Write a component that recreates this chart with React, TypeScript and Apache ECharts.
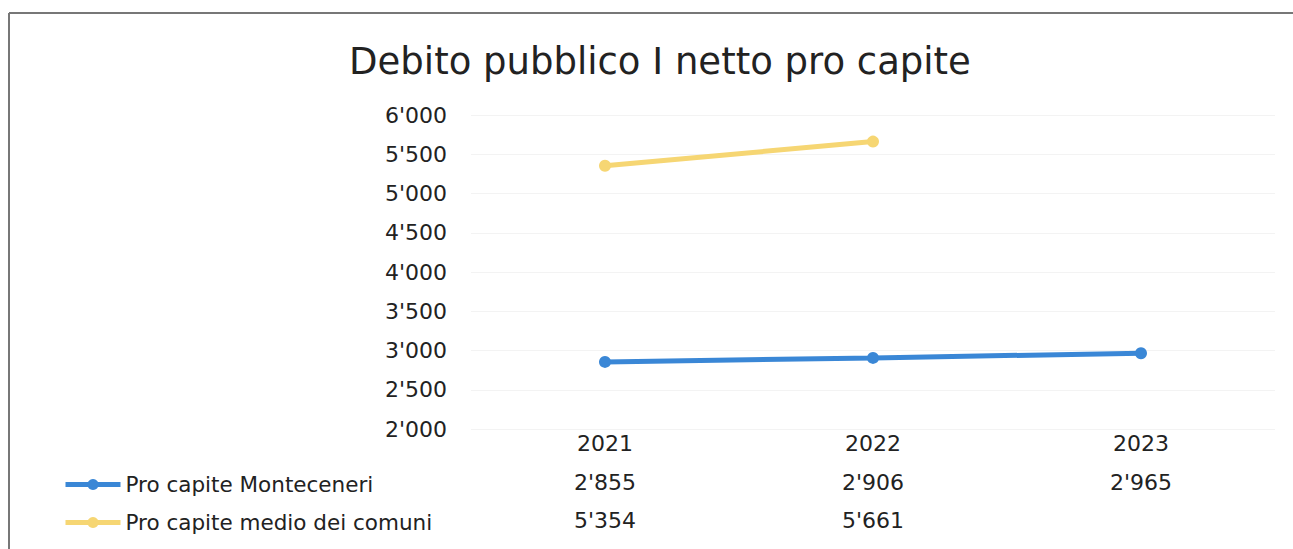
import React, { useEffect, useRef } from "react";
import * as echarts from "echarts";

const years = ["2021", "2022", "2023"];
const seriesNames = ["Pro capite Monteceneri", "Pro capite medio dei comuni"];
const monteceneri = [2855, 2906, 2965];
const medioComuni: (number | null)[] = [5354, 5661, null];
const yMin = 2000;
const yMax = 6000;
const yStep = 500;

const FONT = "DejaVu Sans";
const BLUE = "#3a87d6";
const YELLOW = "#f6d673";

function fmt(v: number | null): string {
  if (v == null) return "";
  const th = Math.floor(v / 1000);
  const rest = String(Math.round(v % 1000)).padStart(3, "0");
  return th > 0 ? `${th}'${rest}` : String(v);
}

export default function App() {
  const ref = useRef<HTMLDivElement>(null);
  useEffect(() => {
    document.body.style.margin = "0";
    const chart = echarts.init(ref.current!, null, { renderer: "svg" });
    const textBase = { fontFamily: FONT, color: "#222", fontSize: 22 };
    chart.setOption({
      animation: false,
      backgroundColor: "#fff",
      title: {
        text: "Debito pubblico I netto pro capite",
        left: 655,
        top: 38,
        textAlign: "center",
        textStyle: { fontFamily: FONT, fontSize: 37, fontWeight: "normal", color: "#222" },
      },
      legend: {
        orient: "vertical",
        left: 58,
        top: 467,
        itemWidth: 55,
        itemHeight: 14,
        itemGap: 13,
        lineStyle: { width: 5 },
        textStyle: { ...textBase, fontSize: 21.5, lineHeight: 25 },
        data: seriesNames,
      },
      grid: { left: 471, right: 18, top: 115, bottom: 120, containLabel: false },
      xAxis: [
        {
          type: "category",
          data: years,
          boundaryGap: true,
          axisLine: { show: false },
          axisTick: { show: false },
          axisLabel: { ...textBase, margin: 3 },
        },
        {
          type: "category",
          data: monteceneri.map(fmt),
          position: "bottom",
          offset: 39,
          axisLine: { show: false },
          axisTick: { show: false },
          axisLabel: { ...textBase, margin: 3 },
        },
        {
          type: "category",
          data: medioComuni.map(fmt),
          position: "bottom",
          offset: 77,
          axisLine: { show: false },
          axisTick: { show: false },
          axisLabel: { ...textBase, margin: 3 },
        },
      ],
      yAxis: {
        type: "value",
        min: yMin,
        max: yMax,
        interval: yStep,
        axisLine: { show: false },
        axisTick: { show: false },
        splitLine: { lineStyle: { color: "#f3f3f3" } },
        axisLabel: { ...textBase, margin: 24, formatter: (v: number) => fmt(v) },
      },
      graphic: [
        { type: "line", shape: { x1: 9, y1: 13, x2: 1293, y2: 13 }, style: { stroke: "#777", lineWidth: 2 } },
        { type: "line", shape: { x1: 9, y1: 13, x2: 9, y2: 549 }, style: { stroke: "#777", lineWidth: 2 } },
      ],
      series: [
        {
          name: seriesNames[0],
          type: "line",
          data: monteceneri,
          symbol: "circle",
          symbolSize: 12,
          lineStyle: { color: BLUE, width: 5 },
          itemStyle: { color: BLUE },
        },
        {
          name: seriesNames[1],
          type: "line",
          data: medioComuni,
          symbol: "circle",
          symbolSize: 12,
          lineStyle: { color: YELLOW, width: 5 },
          itemStyle: { color: YELLOW },
        },
      ],
    });
    return () => chart.dispose();
  }, []);
  return <div ref={ref} style={{ width: 1293, height: 549 }} />;
}
